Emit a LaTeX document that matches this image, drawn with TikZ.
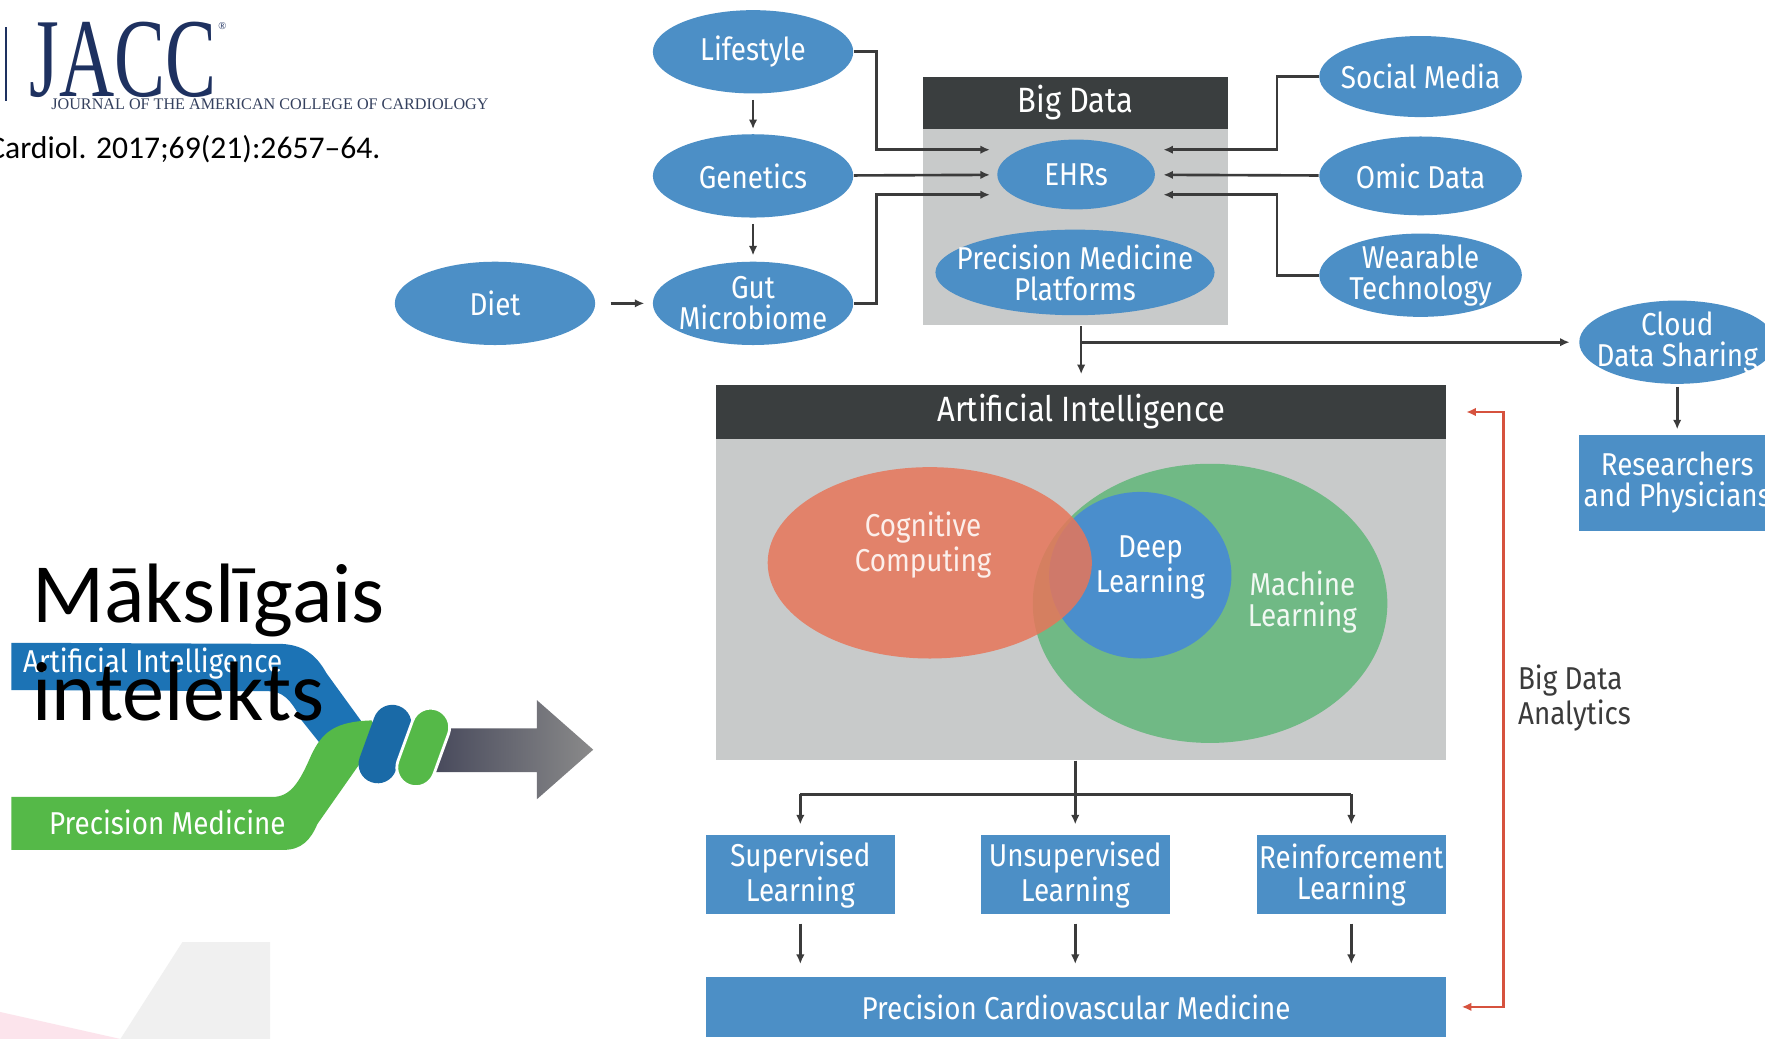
\documentclass[tikz,border=0pt]{standalone}
\usepackage{fontspec}
\setmainfont{Carlito}
\newfontfamily\dgmfont[FakeStretch=0.88]{Fira Sans}
\newfontfamily\logofont[FakeStretch=0.68]{Liberation Serif}
\newfontfamily\jrnlfont{Liberation Serif}
\usetikzlibrary{positioning, arrows.meta, shapes.geometric, calc}
\definecolor{BlueA}{HTML}{4C8FC6}
\definecolor{DeepA}{HTML}{4A8ECC}
\definecolor{GrayA}{HTML}{C8CACA}
\definecolor{GrayB}{HTML}{3A3E3F}
\definecolor{GrayC}{HTML}{F0F0F0}
\definecolor{OrangeA}{HTML}{E7765A}
\definecolor{GreenA}{HTML}{70B985}
\definecolor{RedA}{HTML}{D6523E}
\definecolor{InkA}{HTML}{3B3B3B}
\definecolor{NavyA}{HTML}{1E3160}
\definecolor{NavyB}{HTML}{34405E}
\definecolor{RibBlue}{HTML}{1C73B5}
\definecolor{RibGreen}{HTML}{55B948}
\definecolor{ShaftA}{HTML}{45475A}
\definecolor{ShaftB}{HTML}{8A8A8A}
\definecolor{PinkA}{HTML}{FCE4EC}
\newdimen\dpx \dpx=0.011257cm
\newcommand{\dgm}{\dgmfont\fontsize{9}{8.8}\selectfont}
\newcommand{\dgmhead}{\dgmfont\fontsize{10}{10}\selectfont}
\tikzset{
  blob/.style={ellipse, fill=BlueA, inner sep=0pt,
               minimum width=178\dpx, minimum height=74\dpx},
  blobtxt/.style={font=\dgm, text=white, align=center, inner sep=0pt},
  box/.style={rectangle, fill=BlueA, inner sep=0pt, font=\dgm,
              text=white, align=center},
  panel/.style={rectangle, fill=GrayA, inner sep=0pt},
  head/.style={rectangle, fill=GrayB, inner sep=0pt, font=\dgmhead, text=white},
  venntxt/.style={font=\dgm, align=center, inner sep=0pt},
  capsule/.style={rectangle, rounded corners=17\dpx, inner sep=0pt,
                  minimum width=34\dpx, minimum height=72\dpx},
  wire/.style={draw=InkA, line width=0.75pt},
  arr/.style={-{Latex[length=0.95mm, width=0.85mm]}, draw=InkA, line width=0.75pt},
  redarr/.style={{Latex[length=0.95mm, width=0.85mm]}-{Latex[length=0.95mm, width=0.85mm]},
                 draw=RedA, line width=0.75pt}
}

\begin{document}
\begin{tikzpicture}[x=0.011257cm, y=-0.011257cm]
  \useasboundingbox (0,0) rectangle (1568,923);
  \fill[white] (0,0) rectangle (1568,923);

  % ----- slide corner shapes -----
  \fill[PinkA] (0,899) -- (107,923) -- (0,923) -- cycle;
  \fill[GrayC] (162,837) -- (240,837) -- (240,923) -- (107,923) -- cycle;

  % ----- journal logo and reference -----
  \draw[NavyA, line width=0.5pt] (5,24) -- (5,90);
  \node[anchor=base west, inner sep=0pt, text=NavyA,
        font=\logofont\fontsize{32}{32}\selectfont] (jacc) at (26,86) {JACC};
  \node[anchor=north west, inner sep=0pt, text=NavyA,
        font=\jrnlfont\fontsize{3}{3}\selectfont] (reg) at (jacc.north east) {®};
  \node[anchor=base west, inner sep=0pt, text=NavyB,
        font=\jrnlfont\fontsize{4.6}{5}\selectfont] (jrnl) at (45,97)
    {JOURNAL OF THE AMERICAN COLLEGE OF CARDIOLOGY};
  \node[anchor=base west, inner sep=0pt, font=\fontsize{9}{10}\selectfont]
    (cite) at (-11,141) {Cardiol. 2017;69(21):2657–64.};

  % ----- ribbon: two strands twisted into one arrow -----
  \fill[RibBlue] (10,571) -- (250,572) .. controls (268,573) and (280,580) .. (290,598)
    -- (335,660) -- (300,680) -- (268,640) .. controls (258,620) and (250,614) .. (238,614)
    -- (10,613) -- cycle;
  \shade[left color=ShaftA, middle color=ShaftB, right color=ShaftB]
    (380,647) -- (477,647) -- (477,622) -- (527,666) -- (477,710) -- (477,686)
    -- (380,686) -- cycle;
  \fill[RibGreen] (10,708) -- (242,708) .. controls (258,708) and (266,695) .. (276,672)
    .. controls (286,650) and (298,641) .. (330,640) -- (345,665) -- (322,675)
    -- (282,732) .. controls (276,746) and (268,755) .. (252,755) -- (10,755) -- cycle;
  \node[capsule, fill=RibBlue!92!black, rotate=-20] (capb) at (342,661) {};
  \node[capsule, fill=RibGreen, draw=white, line width=0.8pt, rotate=-20] (capg) at (376,664) {};
  \node[anchor=base west, inner sep=0pt, font=\dgm, text=white] (ribai) at (20,597)
    {Artificial Intelligence};
  \node[anchor=base west, inner sep=0pt, font=\dgm, text=white] (ribpm) at (43,741)
    {Precision Medicine};

  % ----- slide title -----
  \node[anchor=base west, inner sep=0pt, font=\fontsize{24}{28}\selectfont]
    (titleA) at (28,553) {Mākslīgais};
  \node[anchor=base west, inner sep=0pt, font=\fontsize{24}{28}\selectfont]
    (titleB) at (28,640) {intelekts};

  % ----- big data panel -----
  \node[panel, minimum width=271\dpx, minimum height=221\dpx] (bd) at (955.5,178.5) {};
  \node[head, anchor=north, minimum width=271\dpx, minimum height=47\dpx]
    (bdhead) at (bd.north) {Big Data};
  \node[blob, minimum width=140\dpx, minimum height=62\dpx,
        label={[blobtxt]center:EHRs}] (ehr) at (956,155) {};
  \node[blob, minimum width=248\dpx, minimum height=76\dpx,
        label={[blobtxt]center:Precision Medicine\\Platforms}] (pmp) at (955,242) {};

  % ----- data sources -----
  \node[blob, label={[blobtxt]center:Lifestyle}] (life) at (669,46) {};
  \node[blob, below=35\dpx of life, label={[blobtxt]center:Genetics}] (gen) {};
  \node[blob, below=38\dpx of gen, label={[blobtxt]center:Gut\\Microbiome}] (gut) {};
  \node[blob, left=50\dpx of gut, label={[blobtxt]center:Diet}] (diet) {};
  \node[blob, minimum width=180\dpx, minimum height=72\dpx,
        label={[blobtxt]center:Social Media}] (social) at (1262,68) {};
  \node[blob, minimum width=180\dpx, minimum height=70\dpx, below=16\dpx of social,
        label={[blobtxt]center:Omic Data}] (omic) {};
  \node[blob, minimum width=180\dpx, below=15\dpx of omic,
        label={[blobtxt]center:Wearable\\Technology}] (wear) {};

  % ----- sharing -----
  \node[blob, minimum width=174\dpx, minimum height=74\dpx,
        label={[blobtxt]center:Cloud\\Data Sharing}] (cloud) at (1490,304) {};
  \node[box, minimum width=175\dpx, minimum height=86\dpx] (res) at (1490,429)
    {Researchers\\and Physicians};

  % ----- artificial intelligence panel -----
  \node[panel, minimum width=649\dpx, minimum height=333\dpx] (ai) at (960.5,508.5) {};
  \node[head, anchor=north, minimum width=649\dpx, minimum height=48\dpx]
    (aihead) at (ai.north) {Artificial Intelligence};
  \node[ellipse, fill=GreenA, minimum width=315\dpx, minimum height=248\dpx] (ml) at (1075,536) {};
  \node[ellipse, fill=DeepA, minimum width=162\dpx, minimum height=148\dpx] (dl) at (1013,511) {};
  \node[ellipse, fill=OrangeA, fill opacity=0.85,
        minimum width=288\dpx, minimum height=170\dpx] (cc) at (826,500) {};
  \node[venntxt, text=OrangeA!12] (cctxt) at (820,484) {Cognitive\\Computing};
  \node[venntxt, text=white] (dltxt) at (1022,504) {Deep\\Learning};
  \node[venntxt, text=GreenA!10] (mltxt) at (1157,535) {Machine\\Learning};

  % ----- learning types -----
  \node[box, minimum width=168\dpx, minimum height=70\dpx] (sup) at (711,777)
    {Supervised\\Learning};
  \node[box, minimum width=168\dpx, minimum height=70\dpx, right=75\dpx of sup] (unsup)
    {Unsupervised\\Learning};
  \node[box, minimum width=168\dpx, minimum height=70\dpx, right=76\dpx of unsup] (reinf)
    {Reinforcement\\Learning};
  \node[box, minimum width=658\dpx, minimum height=53\dpx] (pcm) at (956,894.5)
    {Precision Cardiovascular Medicine};
  \node[anchor=west, font=\dgm, text=InkA, align=left, inner sep=0pt] (bda) at (1348,620)
    {Big Data\\Analytics};

  % ----- inputs into EHRs -----
  \draw[arr] (life.east) -- ++(20,0) |- ($(ehr.west)+(-6,-22)$);
  \draw[arr, shorten >=6\dpx] (gen) -- (ehr);
  \draw[arr] (gut.east) -- ++(20,0) |- ($(ehr.west)+(-6,18)$);
  \draw[arr] (social.west) -- ++(-37,0) |- ($(ehr.east)+(7,-22)$);
  \draw[arr, shorten >=7\dpx] (omic) -- (ehr);
  \draw[arr] (wear.west) -- ++(-37,0) |- ($(ehr.east)+(7,18)$);
  \draw[arr, shorten <=5\dpx, shorten >=4\dpx] (life) -- (gen);
  \draw[arr, shorten <=5\dpx, shorten >=5\dpx] (gen) -- (gut);
  \draw[arr, shorten <=13\dpx, shorten >=7\dpx] (diet) -- (gut);

  % ----- big data out -----
  \draw[arr, shorten >=9\dpx] (ai.north |- bd.south) -- (ai.north);
  \draw[arr, shorten >=8\dpx] (ai.north |- cloud) -- (cloud);
  \draw[arr, shorten <=2\dpx, shorten >=4\dpx] (cloud) -- (res);

  % ----- ai to learning types -----
  \coordinate (split) at ($(ai.south)+(0,30)$);
  \draw[arr, shorten >=9\dpx] (unsup |- ai.south) -- (unsup.north);
  \draw[wire] (split -| sup) -- (split -| reinf);
  \draw[arr, shorten >=9\dpx] (split -| sup) -- (sup.north);
  \draw[arr, shorten >=9\dpx] (split -| reinf) -- (reinf.north);
  \foreach \n in {sup, unsup, reinf}
    \draw[arr, shorten <=8\dpx, shorten >=11\dpx] (\n.south) -- (\n.south |- pcm.north);

  % ----- analytics feedback -----
  \draw[redarr] ($(aihead.east)+(17,0)$) -- ++(33,0) |- ($(pcm.east)+(13,0)$);
\end{tikzpicture}
\end{document}
